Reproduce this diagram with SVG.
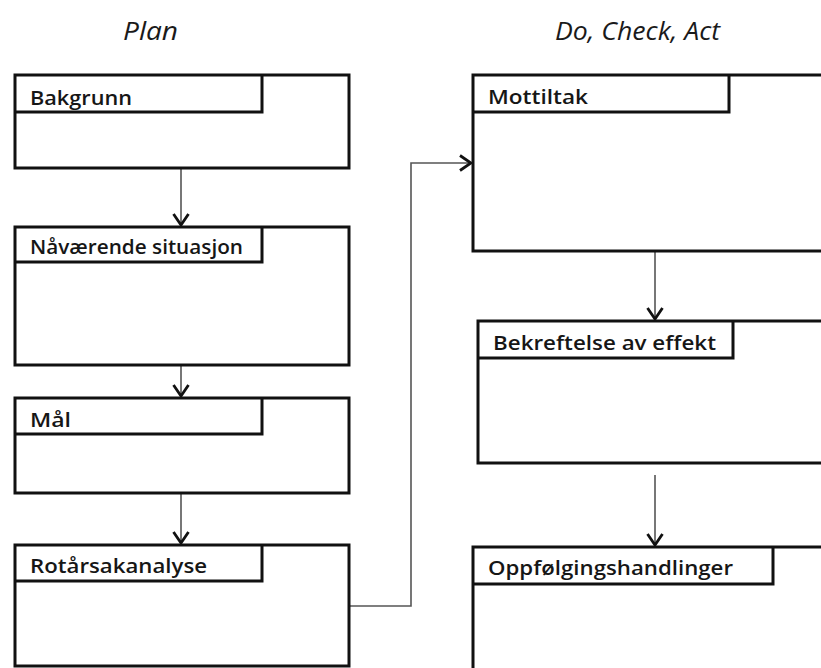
<svg xmlns="http://www.w3.org/2000/svg" width="821" height="668" viewBox="0 0 821 668">
  <defs>
    <marker id="chev" viewBox="0 0 14 18" refX="12.5" refY="9" markerWidth="14" markerHeight="18" markerUnits="userSpaceOnUse" orient="auto">
      <path d="M1.5,1.5 L12.5,9 L1.5,16.5" fill="none" stroke="#111" stroke-width="2.8" stroke-linejoin="miter"/>
    </marker>
  </defs>
  <style>
    .box { fill: #fff; stroke: #111; stroke-width: 3; }
    .tab { fill: none; stroke: #111; stroke-width: 3; }
    .lbl { font-family: "Open Sans", "Liberation Sans", sans-serif; font-weight: 600; font-size: 20.5px; fill: #161616; }
    .ttl { font-family: "Open Sans", "Liberation Sans", sans-serif; font-style: italic; font-size: 25px; fill: #1a1a1a; }
    .wire { fill: none; stroke: #555; stroke-width: 1.6; }
  </style>
  <rect width="821" height="668" fill="#fff"/>

  <text class="ttl" x="123" y="40" textLength="55" lengthAdjust="spacingAndGlyphs">Plan</text>
  <text class="ttl" x="555" y="40" textLength="165" lengthAdjust="spacingAndGlyphs">Do, Check, Act</text>

  <g id="connectors">
    <line class="wire" x1="181" y1="168" x2="181" y2="225" marker-end="url(#chev)"/>
    <line class="wire" x1="181" y1="365" x2="181" y2="396" marker-end="url(#chev)"/>
    <line class="wire" x1="181" y1="493" x2="181" y2="543" marker-end="url(#chev)"/>
    <polyline class="wire" points="349,606 411,606 411,163 471,163" marker-end="url(#chev)"/>
    <line class="wire" x1="655" y1="251" x2="655" y2="319" marker-end="url(#chev)"/>
    <line class="wire" x1="655" y1="475" x2="655" y2="545" marker-end="url(#chev)"/>
  </g>

  <g id="bakgrunn">
    <rect class="box" x="15" y="75" width="334" height="93"/>
    <polyline class="tab" points="15,112 262,112 262,75"/>
    <text class="lbl" x="30" y="105" textLength="102" lengthAdjust="spacingAndGlyphs">Bakgrunn</text>
  </g>
  <g id="naavaerende-situasjon">
    <rect class="box" x="15" y="227" width="334" height="138"/>
    <polyline class="tab" points="15,262 262,262 262,227"/>
    <text class="lbl" x="30" y="254" textLength="213" lengthAdjust="spacingAndGlyphs">Nåværende situasjon</text>
  </g>
  <g id="maal">
    <rect class="box" x="15" y="398" width="334" height="95"/>
    <polyline class="tab" points="15,434 262,434 262,398"/>
    <text class="lbl" x="30" y="427" textLength="41" lengthAdjust="spacingAndGlyphs">Mål</text>
  </g>
  <g id="rotarsakanalyse">
    <rect class="box" x="15" y="545" width="334" height="121"/>
    <polyline class="tab" points="15,581 262,581 262,545"/>
    <text class="lbl" x="30" y="573" textLength="177" lengthAdjust="spacingAndGlyphs">Rotårsakanalyse</text>
  </g>

  <g id="mottiltak">
    <rect class="box" x="473" y="75" width="360" height="176"/>
    <polyline class="tab" points="473,112 729,112 729,75"/>
    <text class="lbl" x="488" y="104" textLength="100" lengthAdjust="spacingAndGlyphs">Mottiltak</text>
  </g>
  <g id="bekreftelse-av-effekt">
    <rect class="box" x="478" y="321" width="360" height="142"/>
    <polyline class="tab" points="478,358 733,358 733,321"/>
    <text class="lbl" x="493" y="350" textLength="223" lengthAdjust="spacingAndGlyphs">Bekreftelse av effekt</text>
  </g>
  <g id="oppfolgingshandlinger">
    <rect class="box" x="473" y="547" width="360" height="140"/>
    <polyline class="tab" points="473,584 773,584 773,547"/>
    <text class="lbl" x="488" y="575" textLength="245" lengthAdjust="spacingAndGlyphs">Oppfølgingshandlinger</text>
  </g>
</svg>
